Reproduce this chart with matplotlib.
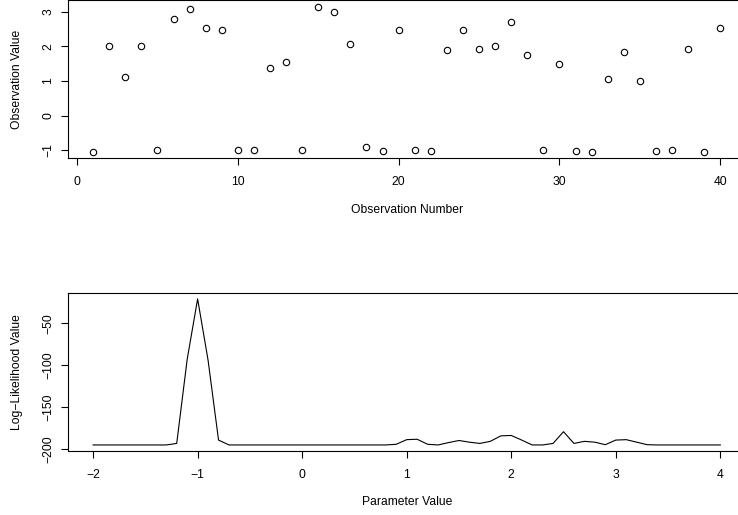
import numpy as np
import matplotlib.pyplot as plt

plt.rcParams['font.family'] = ['Liberation Sans', 'DejaVu Sans']

# observations (top panel)
obs_num = np.arange(1, 41)
obs_val = [-1.05, 2.02, 1.11, 2.02, -0.98, 2.78, 3.07, 2.52, 2.47, -0.98,
           -0.99, 1.39, 1.55, -0.99, 3.15, 2.98, 2.08, -0.91, -1.02, 2.46,
           -1.00, -1.01, 1.90, 2.48, 1.92, 2.02, 2.70, 1.75, -0.99, 1.50,
           -1.03, -1.05, 1.05, 1.83, 0.99, -1.02, -0.98, 1.94, -1.04, 2.52]

# log-likelihood over parameter grid (bottom panel)
param = np.linspace(-2, 4, 61)
loglik = [-194.8] * 8 + [-193, -93, -21, -94, -189] + [-194.8] * 16 + \
         [-194, -188.5, -188, -194, -194.8, -192, -189.5, -191.5, -193, -190.5,
          -184, -183.5, -189, -194.8, -194.8, -193, -179, -193, -190.5, -191.5,
          -194.5, -189, -188.5, -191.5, -194.5] + [-194.8] * 7

W, H = 738, 515
fs = 8.7
fig = plt.figure(figsize=(W / 100, H / 100), dpi=100)

def px(x0, y0, x1, y1):
    return [x0 / W, 1 - y1 / H, (x1 - x0) / W, (y1 - y0) / H]

def style(ax):
    for s in ax.spines.values():
        s.set_linewidth(0.8)
        s.set_color('black')
    ax.tick_params(direction='out', length=5, width=0.8, labelsize=fs)
    ax.tick_params(axis='x', pad=8)
    ax.tick_params(axis='y', pad=5)
    for lab in ax.get_yticklabels():
        lab.set_rotation(90)
        lab.set_va('center')

# top panel
ax1 = fig.add_axes(px(68, 0, 745.4, 158))
ax1.plot(obs_num, obs_val, 'o', mfc='none', mec='black', ms=4.6, mew=0.8)
ax1.set_xlim(-0.56, 41.56)
ax1.set_ylim(-1.22, 3.34)
ax1.set_xticks([0, 10, 20, 30, 40])
ax1.set_yticks([-1, 0, 1, 2, 3])
style(ax1)
fig.text(406.7 / W, 1 - 210 / H, 'Observation Number', ha='center', va='center', fontsize=fs)
fig.text(17 / W, 1 - 79 / H, 'Observation Value', ha='center', va='center', rotation=90, fontsize=fs)

# bottom panel
ax2 = fig.add_axes(px(68, 292.7, 745.4, 451))
ax2.plot(param, loglik, color='black', lw=0.8)
ax2.set_xlim(-2.24, 4.24)
ax2.set_ylim(-202.0, -13.6)
ax2.set_xticks([-2, -1, 0, 1, 2, 3, 4])
ax2.set_yticks([-200, -150, -100, -50])
style(ax2)
fig.text(406.7 / W, 1 - 502 / H, 'Parameter Value', ha='center', va='center', fontsize=fs)
fig.text(17 / W, 1 - 372 / H, 'Log\u2212Likelihood Value', ha='center', va='center', rotation=90, fontsize=fs)

fig.savefig('out.png', dpi=100)
